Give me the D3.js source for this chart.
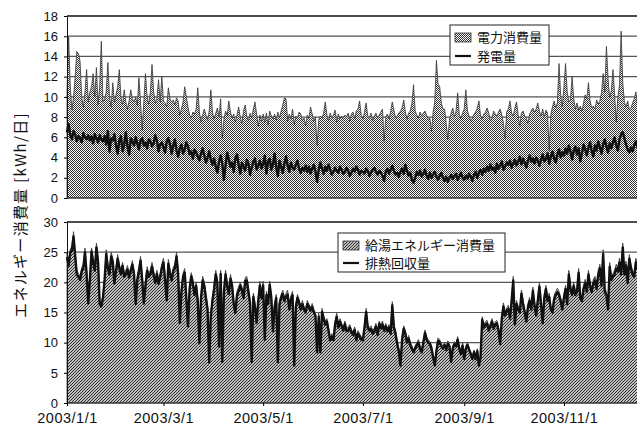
<!DOCTYPE html>
<html><head><meta charset="utf-8">
<script src="https://cdn.jsdelivr.net/npm/d3@7"></script>
<style>
body{margin:0;background:#fff}
svg{display:block}
text{font-family:"Liberation Sans",Arial,sans-serif;fill:#111}
.jp{font-family:"Noto Sans CJK JP","Noto Sans",sans-serif}
</style>
</head><body>
<svg id="c" width="637" height="428"></svg>
<script>
// ---- data (daily values, 2003) ----
const power = [
10.5,16,11,8.7,10,12,14.5,14.3,13.5,10,9,10.5,12.7,9.5,10.5,11,12.3,10,12.9,9.2,11,15.5,9.5,9.8,10.5,13.4,10,9,11.4,9.4,10.2,
11,12.7,10,9.2,10.7,9.5,8.8,9.6,10.7,9.8,9.5,10,9.2,11.9,9.5,6.7,9.5,12.3,10,9.3,10.5,13.2,10.5,9.4,9.8,11.7,9.5,12,
9.6,9.4,9,10.9,9.8,9.5,9.7,9.2,9.9,9.6,8.2,8.8,9.5,11,10,9,8.2,7.9,8.5,8.3,8.8,10.9,8.5,7.5,8.2,8.8,8.2,7.7,8.6,10.7,8.5,
7.8,8.4,8.9,8,9.8,5.9,7.8,8.6,8.2,9.6,8.5,7.9,8.3,7.5,8.2,9,8,7.4,8.6,9.2,8.1,7.6,8.4,7.9,8.8,9.5,8.3,7.1,8.2,7.6,
8.3,7.5,8.4,7.2,8.6,8.1,7.8,8.3,7.7,8.5,7.9,8.6,9.2,9.9,9.8,7.6,8.3,7.8,8.8,7.3,8.1,7.9,8.5,8.3,7.6,7.9,7.2,8.2,7.9,9,8.3,
7.6,8,5.2,7.7,8.1,7.9,8.4,9.5,8.2,7.6,8.4,7.9,8.2,8.7,7.5,8.3,7.8,8.1,7.9,8.2,8,8.4,7.6,8.3,8.5,7.8,8.6,8.8,9.6,8.2,
7.8,8.5,9.4,8.1,7.9,8.4,7.6,8.1,8.4,7.9,8.2,8.5,8.8,5.6,8,8.3,7.8,8.6,9.5,8.7,7.9,8.1,8.4,8.6,8.9,9.7,8.5,7.8,8.4,8.6,9.4,
11.2,8.6,8.2,7.9,8.5,8.1,8.4,8.6,8.2,7.8,7.9,6.6,8.5,9.5,13.6,11.3,11,9.4,8.8,8.8,7.4,5.8,7.8,8.4,8.9,8,8.6,10.4,8.2,7.9,8.4,
8.8,10.7,8.6,8.1,7.6,7.9,8.3,8.5,8.9,9.6,8.1,7.8,8.3,8.5,8.9,8.4,7.6,7.9,8.6,8.3,8.1,8.5,8.8,8.2,7.4,5.9,8.5,8.8,9.6,8.4,
8.1,8.9,9.5,8.2,7.1,8.4,8.6,8.1,7.9,7.4,8.3,8.6,8.9,8.5,8.8,9.4,8.6,8.1,8.8,8,8.7,8.4,4.7,8.3,9,9.6,8.9,9.4,13.3,10.2,9,
11,13.3,10.5,9.5,9.7,12,9.8,8.8,9.4,8.7,9.1,8.6,9.4,10.2,9.8,11.4,9.6,8.9,9.1,8.8,9.7,9.3,9.6,10.4,12.3,10.5,15,11.8,9.9,10.6,
12.7,10.3,7.5,10,11.2,16.5,11.4,9.5,9,9.6,8.7,8.9,9.4,9.8,10.5,9.2,9.6,10.2,9.4,11,9.6,10.3,9.8,10.6,11.5,9.9,10.4,9.6,10.8,10.2,9.7
];
const generation = [
6.5,7.3,6.2,5.8,6.6,6.3,5.6,6.1,5.9,5.5,6.4,6,5.8,6.2,5.7,6.1,5.4,6.3,5.9,5.5,6.2,5.8,5.6,6.1,5.3,6.6,4.6,5.9,5.7,6.3,5.2,
4.4,5.7,6.1,4.6,5.3,6.5,5.1,4.3,5.9,5.6,5.2,6,5.4,4.8,5.7,5.9,5.2,5.5,4.9,5.8,5.6,5.1,5.4,6.2,5.7,4.6,5.3,5.5,
5.0,4.5,5.6,5.9,5.3,4.4,5.2,5.8,4.7,4.1,4.9,5.3,4.4,4.8,5.5,5.1,4.3,4.6,3.9,4.8,4.5,4.1,3.7,4.4,4.9,4.2,3.5,4.0,4.6,3.8,3.3,
3.9,3.1,2.5,3.6,4.2,3.4,1.8,3.2,4.5,3.8,3.1,3.5,2.6,3.9,4.3,3.3,2.4,3.5,3.1,2.7,3.8,3.4,2.3,3.0,3.6,3.9,2.8,3.2,3.7,2.9,
3.4,4.2,2.4,3.6,3.9,2.8,3.3,4.4,3.0,2.2,3.7,3.1,2.5,3.4,4.1,3.2,2.6,3.5,3.0,2.8,3.3,3.7,2.9,2.5,3.0,2.7,3.2,2.6,3.1,2.4,2.9,
3.3,2.6,1.6,2.8,3.5,2.9,2.4,3.1,2.7,3.3,2.8,2.3,2.6,3.0,2.7,2.5,3.1,2.8,2.4,2.6,3.0,2.7,2.2,2.5,2.9,2.6,3.1,2.8,2.3,2.7,
2.6,2.4,2.9,2.7,2.2,2.5,2.8,3.0,2.6,2.3,2.7,2.5,2.2,1.7,2.6,2.9,2.4,2.8,3.2,2.7,2.3,2.5,2.1,2.6,2.9,2.4,3.3,2.7,2.2,2.5,1.8,
1.5,2.0,2.6,2.3,2.7,2.1,2.4,2.8,2.2,1.9,2.5,2.0,2.3,2.6,2.1,1.8,2.2,2.5,2.0,1.7,2.1,1.6,2.0,2.3,1.9,2.2,2.4,1.8,2.1,2.5,2.0,
1.8,2.2,1.9,2.4,2.1,1.7,2.3,2.6,2.0,2.5,2.8,2.3,2.9,2.6,3.1,2.7,3.3,2.8,3.0,2.5,3.4,2.9,3.2,3.6,2.8,3.1,3.5,3.3,3.7,3.0,
3.4,3.8,3.2,3.6,4.1,3.3,3.9,3.5,3.0,3.7,4.2,3.6,3.9,3.4,4.0,3.7,3.2,3.8,4.3,3.6,3.9,4.4,3.4,4.1,4.6,3.9,3.5,4.3,4.8,4.0,4.5,
4.2,4.9,4.4,5.2,4.6,3.8,4.7,5.1,4.3,4.9,3.6,4.4,5.3,4.8,4.2,5.0,5.5,4.6,4.1,5.2,4.7,5.6,5.0,4.4,5.3,5.8,5.1,4.5,5.4,4.9,
5.5,6.0,5.2,4.7,5.8,6.3,6.5,5.9,5.3,4.8,4.5,5.0,4.6,5.2,5.6,5.0,5.4,5.8,5.3,5.7,6.0,5.5,5.2,5.8,6.1,5.6,5.4,5.9,6.2,5.7,5.5
];
const hotWater = [
24.9,23.5,25.5,26,28.4,25,22,21.5,21,22.5,23,25.7,22,17,21,25.7,24,22.5,26.5,24,17,16.5,18,21,25.4,23,22,25,24,20.4,22.5,
24.6,23,22,23.3,21.5,22,22.8,21.5,22.5,23.6,22,17,21,22.5,24.3,21,17,20,22.6,21.5,22,23.3,21.8,20.5,22,20.4,21.5,23,
24,21,17.6,23.8,22,21,22.5,23,25,22,13.8,19,21.5,22.3,18,13.2,19.5,21.6,20.5,18.5,20,17.5,10.4,18,21,20,18,16,7.1,15,17.6,
19.5,22,20.5,9.9,22,7.2,19,22,20,18.7,21.3,20,17,15.4,18.5,19.3,20,19.3,18,20.8,21,19,17,7.2,18.2,16.5,13.8,17.5,20.2,18,
20.2,11,18.5,17,20.2,18,12.4,16.5,18,7.2,17,18,18.7,17.5,18.2,18.7,16,17.8,18.5,6.6,16.5,18,17.2,16,17,16,15.5,17,16.4,15.8,16.5,
15.5,15,8.8,14.9,8.8,15.7,14.5,13.5,14,12.5,10.8,11.5,10.8,13.5,14.9,13,14,13.2,12.5,13.6,12.4,12.5,13,12.2,11.8,12.6,10.8,12,11.5,11,
10.8,13,15.7,13,12.5,12.8,12,12.4,13.2,11.8,13.6,12.9,13.6,12.5,13.2,12.4,13,12,16.8,13,12,10.2,9,6.6,11,12.8,12,10.5,11.2,10,9.5,
8.8,9.5,10,10.5,9.5,8.8,10.5,12.1,11,10.5,10.2,9.5,8,6.6,9,10.8,10.5,9.8,9.5,10,9.2,10.3,9.8,7.2,9.5,10.2,9.8,11,9.5,8.5,10,
7.7,9.5,10,9.2,8.5,7.7,8.8,7.7,9,6.6,8,14.3,13,13.5,13.7,12.5,13.2,14,12.8,13.5,13.7,12.5,10.2,14.5,16.6,15,15.8,16.2,14.5,17.5,
21,13.5,17,16,15.5,18.7,17,15.5,14,16.5,17.5,16,19.2,16.8,15,17.5,19.9,17,13.7,18,19.5,17.5,18.2,16,15.5,17.8,18.5,19,18.5,17.5,16,
18,19.5,17,22,19.5,18.5,20,18.5,19,22.3,18,17.5,19.5,20.5,19,22,20,19,20.5,21,19.5,22,23,20,25.4,19,18.5,16,23.3,21,
21.5,22,23,22.5,24,22,26.5,22,23.5,20.5,24.6,23,22,21.5,24,23,22.5,24.5,23.5,25,22.5,24,23.5,25.5,24,22.5,23.5,25,24,23,24.5
];
const recovery = [
24.2,22.8,24.9,25.3,27.6,24.4,21.3,20.9,20.4,21.8,22.4,25,21.4,16.5,20.4,25.1,23.3,21.9,25.8,23.4,16.4,16,17.4,20.4,24.7,22.4,21.3,24.3,23.4,19.8,21.9,
23.9,22.4,21.3,22.7,20.9,21.4,22.1,20.8,21.9,22.9,21.4,16.4,20.4,21.8,23.6,20.4,16.5,19.4,21.9,20.9,21.3,22.6,21.2,19.9,21.4,19.8,20.8,22.4,
23.3,20.4,17,23.1,21.4,20.3,21.9,22.3,24.3,21.4,13.3,18.4,20.9,21.6,17.4,12.7,18.9,21,19.8,17.9,19.4,16.9,9.9,17.4,20.3,19.4,17.4,15.5,6.7,14.5,17,
18.9,21.3,19.9,9.4,21.4,6.8,18.4,21.3,19.4,18.1,20.6,19.4,16.4,14.9,17.9,18.6,19.4,18.7,17.4,20.2,20.3,18.4,16.5,6.8,17.6,15.9,13.3,16.9,19.5,17.4,
19.5,10.5,17.9,16.4,19.6,17.4,11.9,15.9,17.4,6.8,16.4,17.4,18.1,16.9,17.6,18,15.5,17.2,17.9,6.2,15.9,17.4,16.6,15.5,16.4,15.5,15,16.4,15.9,15.3,15.9,
15,14.5,8.4,14.3,8.4,15.1,14,13,13.5,12,10.4,11,10.4,13,14.3,12.5,13.5,12.7,12,13.1,11.9,12,12.5,11.7,11.3,12.1,10.4,11.5,11,10.5,
10.4,12.5,15.1,12.5,12,12.3,11.5,11.9,12.7,11.3,13.1,12.4,13,12,12.7,11.9,12.5,11.5,16.2,12.5,11.5,9.8,8.6,6.2,10.5,12.3,11.5,10,10.7,9.6,9,
8.4,9,9.6,10,9,8.4,10,11.6,10.5,10,9.8,9,7.6,6.2,8.6,10.3,10,9.4,9,9.6,8.8,9.8,9.4,6.8,9,9.7,9.4,10.5,9,8.1,9.5,
7.3,9,9.6,8.8,8.1,7.3,8.4,7.3,8.6,6.2,7.6,13.8,12.5,13,13.2,12,12.7,13.5,12.3,13,13.2,12,9.8,14,16,14.5,15.2,15.6,14,16.9,
20.3,13,16.4,15.5,15,18.1,16.4,15,13.5,15.9,16.9,15.5,18.6,16.2,14.5,16.9,19.3,16.4,13.2,17.4,18.9,16.9,17.6,15.5,15,17.2,17.9,18.4,17.9,16.9,15.5,
17.4,18.9,16.4,21.3,18.9,17.9,19.4,17.9,18.4,21.6,17.4,16.9,18.9,19.8,18.4,21.3,19.4,18.4,19.8,20.3,18.9,21.3,22.3,19.4,24.7,18.4,17.9,15.5,22.6,20.4,
20.9,21.3,22.3,21.8,23.3,21.3,25.8,21.3,22.8,19.9,23.9,22.3,21.3,20.9,23.3,22.3,21.8,23.8,22.8,24.3,21.8,23.3,22.8,24.8,23.3,21.8,22.8,24.3,23.3,22.3,23.8
];
const topTicks = [0,2,4,6,8,10,12,14,16,18];
const bottomTicks = [0,5,10,15,20,25,30];
const labelDates = ["2003-01-01","2003-03-01","2003-05-01","2003-07-01","2003-09-01","2003-11-01"];
const labelTexts = ["2003/1/1","2003/3/1","2003/5/1","2003/7/1","2003/9/1","2003/11/1"];
const topNames = ["電力消費量","発電量"];
const bottomNames = ["給湯エネルギー消費量","排熱回収量"];
const yTitle = "エネルギー消費量 [kWh/日]";

// ---- drawing ----
const svg = d3.select("#c");
const start = new Date(2003,0,1);
const dateOf = i => d3.timeDay.offset(start, i);
const x = d3.scaleTime().domain([start, new Date(2003,11,31)]).range([67, 662]);
const yT = d3.scaleLinear().domain([0,18]).range([198,16]);
const yB = d3.scaleLinear().domain([0,30]).range([403,222]);
const W = 637;

const defs = svg.append("defs");
// fine woven texture for the power-consumption area
const p1 = defs.append("pattern").attr("id","wave").attr("patternUnits","userSpaceOnUse")
  .attr("width",4).attr("height",4);
p1.append("rect").attr("width",4).attr("height",4).attr("fill","#fff");
[[0,0],[1,1],[2,0],[3,1],[0,2],[2,2],[1,3],[3,3]].forEach(([a,b]) =>
  p1.append("rect").attr("x",a).attr("y",b).attr("width",1).attr("height",1).attr("fill","#333"));
// diagonal hatch for the hot-water area
const p2 = defs.append("pattern").attr("id","hatch").attr("patternUnits","userSpaceOnUse")
  .attr("width",3).attr("height",3);
p2.append("rect").attr("width",3).attr("height",3).attr("fill","#fff");
p2.append("path").attr("d","M-1,1 L1,-1 M0,3 L3,0 M2,4 L4,2").attr("stroke","#222").attr("stroke-width",1.1);

function panel(y, ticks, areaVals, lineVals, fillId) {
  const g = svg.append("g");
  const maxV = ticks[ticks.length-1];
  g.selectAll("line.grid").data(ticks.filter(t => t > 0 && t < maxV)).join("line")
    .attr("x1",67).attr("x2",W).attr("y1",d=>y(d)).attr("y2",d=>y(d))
    .attr("stroke","#555").attr("stroke-width",1.2);
  g.append("line").attr("x1",67).attr("x2",W).attr("y1",y(maxV)).attr("y2",y(maxV))
    .attr("stroke","#111").attr("stroke-width",1.5);
  const area = d3.area().x((d,i)=>x(dateOf(i))).y0(y(0)).y1(d=>y(d));
  g.append("path").datum(areaVals).attr("d",area).attr("fill",`url(#${fillId})`)
    .attr("stroke","#333").attr("stroke-width",0.8);
  const line = d3.line().x((d,i)=>x(dateOf(i))).y(d=>y(d));
  g.append("path").datum(lineVals).attr("d",line).attr("fill","none")
    .attr("stroke","#111").attr("stroke-width",2.4).attr("stroke-linejoin","round");
  const ax = g.append("g").attr("transform","translate(67,0)")
    .call(d3.axisLeft(y).tickValues(ticks).tickSizeInner(3).tickSizeOuter(0).tickPadding(6));
  ax.select(".domain").attr("stroke","#111");
  ax.selectAll("text").attr("font-size",13).style("font-family","'Liberation Sans',Arial,sans-serif");
  g.append("line").attr("x1",67).attr("x2",W).attr("y1",y(0)).attr("y2",y(0))
    .attr("stroke","#222").attr("stroke-width",1);
  return g;
}

panel(yT, topTicks, power, generation, "wave");
panel(yB, bottomTicks, hotWater, recovery, "hatch");

// x axis
const xa = svg.append("g").attr("transform",`translate(0,${yB(0)})`)
  .call(d3.axisBottom(x).tickValues(labelDates.map(s=>d3.timeParse("%Y-%m-%d")(s)))
    .tickFormat((d,i)=>labelTexts[i]).tickSizeInner(3).tickSizeOuter(0).tickPadding(7));
xa.select(".domain").remove();
xa.selectAll("text").attr("font-size",14.5).style("letter-spacing","0.5px");

// legends
function legend(x0, y0, w, h, names, fillId) {
  const g = svg.append("g").attr("transform",`translate(${x0},${y0})`);
  g.append("rect").attr("width",w).attr("height",h).attr("fill","#fff")
    .attr("stroke","#222").attr("stroke-width",1);
  g.append("rect").attr("x",5).attr("y",8).attr("width",16).attr("height",9)
    .attr("fill",`url(#${fillId})`).attr("stroke","#333").attr("stroke-width",0.8);
  g.append("line").attr("x1",5).attr("x2",21).attr("y1",h-9).attr("y2",h-9)
    .attr("stroke","#111").attr("stroke-width",2.2);
  g.selectAll("text").data(names).join("text").attr("class","jp")
    .attr("x",27).attr("y",(d,i)=> i===0 ? 12.5 : h-9).attr("dy","0.36em")
    .attr("font-size",13).text(d=>d);
}
legend(450, 25, 99, 40, topNames, "wave");
legend(338, 233, 167, 39, bottomNames, "hatch");

// y title
svg.append("text").attr("class","jp")
  .attr("transform","translate(21,215) rotate(-90)")
  .attr("text-anchor","middle").attr("dy","0.35em")
  .attr("font-size",15).style("letter-spacing","1.3px").text(yTitle);
</script>
</body></html>
